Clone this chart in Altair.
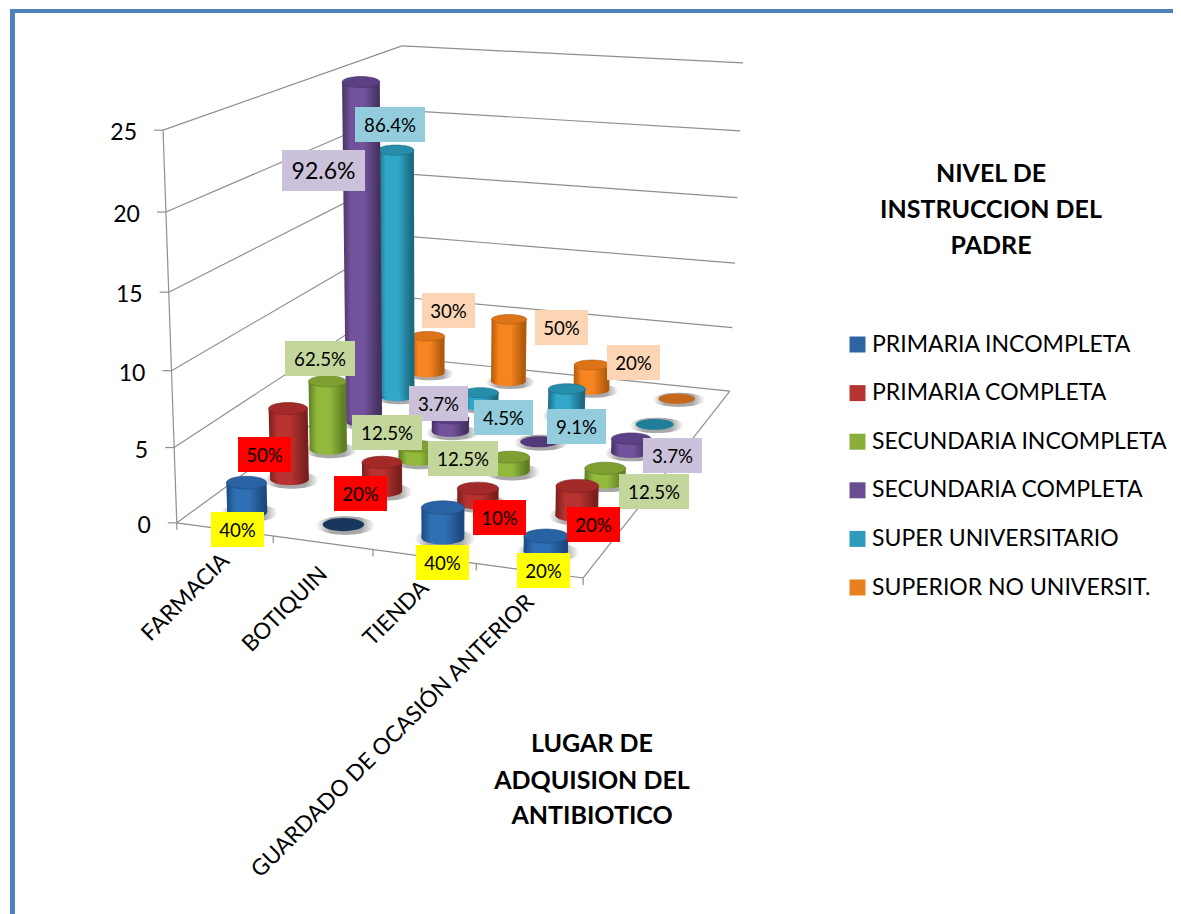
import altair as alt
import numpy as np
import pandas as pd

# ---------- data ----------
categories = ["FARMACIA", "BOTIQUIN", "TIENDA", "GUARDADO DE OCASIÓN ANTERIOR"]
series = ["PRIMARIA INCOMPLETA", "PRIMARIA COMPLETA", "SECUNDARIA INCOMPLETA",
          "SECUNDARIA COMPLETA", "SUPER UNIVERSITARIO", "SUPERIOR NO UNIVERSIT."]
primaria_incompleta = [2, 0, 2, 1]
primaria_completa = [5, 2, 1, 2]
secundaria_incompleta = [5, 1, 1, 1]
secundaria_completa = [25, 1, 0, 1]
super_universitario = [19, 1, 2, 0]
superior_no_universit = [3, 5, 2, 0]
values = [primaria_incompleta, primaria_completa, secundaria_incompleta,
          secundaria_completa, super_universitario, superior_no_universit]
z_ticks = [0, 5, 10, 15, 20, 25]
z_max = 25

pct_primaria_incompleta = ["40%", None, "40%", "20%"]
pct_primaria_completa = ["50%", "20%", "10%", "20%"]
pct_secundaria_incompleta = ["62.5%", "12.5%", "12.5%", "12.5%"]
pct_secundaria_completa = ["92.6%", "3.7%", None, "3.7%"]
pct_super_universitario = ["86.4%", "4.5%", "9.1%", None]
pct_superior_no_universit = ["30%", "50%", "20%", None]
pct = [pct_primaria_incompleta, pct_primaria_completa, pct_secundaria_incompleta,
       pct_secundaria_completa, pct_super_universitario, pct_superior_no_universit]

title_series = ["NIVEL DE", "INSTRUCCION DEL", "PADRE"]
title_categories = ["LUGAR DE", "ADQUISION DEL", "ANTIBIOTICO"]

# ---------- styles ----------
FONT = "Lato"
LEG = ["#2C64A4", "#B53431", "#8AAE3B", "#6A4C93", "#2E9BBB", "#E8801F"]
EDGE = ["#1C4A80", "#7A1F1C", "#5E7E22", "#45315F", "#1C6A80", "#B05A0C"]
MID = ["#2F70B5", "#B83230", "#93B93C", "#72529C", "#31A8CA", "#F78420"]
TOP = ["#2A63A3", "#A22B29", "#7F9F33", "#5C4085", "#268EAB", "#DD741A"]
ZERO = ["#17375E", "#8E2624", "#76932F", "#53387A", "#1F7F99", "#C5681A"]
BOX = ["#FFFF00", "#FF0000", "#C3D69B", "#CCC1DA", "#93CDDD", "#FCD5B5"]
GRID = "#8f8f8f"

# ---------- layout of the reference picture ----------
# box corners of the 3D frame: (u, v, level) -> pixel
frame = [((0, 0, 0), (177, 523)), ((1, 0, 0), (583, 578)), ((1, 1, 0), (730, 391)),
         ((0, 1, 0), (403, 357.5)), ((0, 0, 1), (163, 130)), ((0, 1, 1), (402, 46)),
         ((1, 1, 1), (743, 63))]
A = []
for (u, v, w), (px, py) in frame:
    A.append([u, v, w, 1, 0, 0, 0, 0, -px * u, -px * v, -px * w, -px])
    A.append([0, 0, 0, 0, u, v, w, 1, -py * u, -py * v, -py * w, -py])
P = np.linalg.svd(np.array(A, float))[2][-1].reshape(3, 4)


def project(u, v, z):
    q = P @ np.array([u, v, z / z_max, 1.0])
    return float(q[0] / q[2]), float(q[1] / q[2])


# data-label box centres (label layout, one row per series, same order as pct)
label_centres = [
    [(237.5, 529.5), None, (442.5, 562.5), (543.5, 570.5)],
    [(264.5, 454.5), (360.5, 493.5), (499.5, 517.5), (593.5, 524.5)],
    [(320, 358.5), (387, 432.5), (463, 458.5), (654, 491.5)],
    [(323.5, 170.5), (438.5, 403.5), None, (672.5, 455.5)],
    [(390, 124.5), (503.5, 417.5), (576.5, 426.5), None],
    [(448.5, 310.5), (561.5, 327.5), (633.5, 362.5), None],
]

PW, PH = 1165, 906
X = lambda f: alt.X(f, type="quantitative", axis=None,
                    scale=alt.Scale(domain=[8, 1173], nice=False, zero=False))
Y = lambda f: alt.Y(f, type="quantitative", axis=None,
                    scale=alt.Scale(domain=[914, 8], nice=False, zero=False))
layers = []

# ---------- frame ----------
seg = []
def add_seg(a, b):
    seg.append({"x": a[0], "y": a[1], "x2": b[0], "y2": b[1]})

for z in z_ticks:
    p0, p1, p2 = project(0, 0, z), project(0, 1, z), project(1, 1, z)
    add_seg(p0, p1)
    add_seg(p1, p2)
    add_seg((p0[0] - 9, p0[1]), p0)
add_seg(project(0, 0, 0), project(0, 0, z_max))
add_seg(project(0, 0, 0), project(1, 0, 0))
add_seg(project(1, 0, 0), project(1, 1, 0))
for i in range(len(categories) + 1):
    p = project(i / len(categories), 0, 0)
    add_seg(p, (p[0], p[1] + 7))
layers.append(alt.Chart(pd.DataFrame(seg)).mark_rule(color=GRID, strokeWidth=1.2).encode(
    x=X("x"), y=Y("y"), x2="x2", y2="y2"))

# ---------- outer border ----------
border = pd.DataFrame([{"x": 12.5, "y": 9, "x2": 12.5, "y2": 914},
                       {"x": 10, "y": 11, "x2": 1173, "y2": 11}])
layers.append(alt.Chart(border.iloc[[0]]).mark_rule(color="#4F81BD", strokeWidth=5).encode(
    x=X("x"), y=Y("y"), x2="x2", y2="y2"))
layers.append(alt.Chart(border.iloc[[1]]).mark_rule(color="#4F81BD", strokeWidth=4).encode(
    x=X("x"), y=Y("y"), x2="x2", y2="y2"))

# ---------- cylinders, back row first ----------
R = 0.053


def ellipse(a):
    return f"M-1,0 A1,{a:.3f} 0 1,1 1,0 A1,{a:.3f} 0 1,1 -1,0 Z"


def body_gradient(j):
    return alt.Gradient(gradient="linear", x1=0, x2=1, y1=0, y2=0, stops=[
        alt.GradientStop(color=EDGE[j], offset=0),
        alt.GradientStop(color=MID[j], offset=0.22),
        alt.GradientStop(color=MID[j], offset=0.55),
        alt.GradientStop(color=EDGE[j], offset=0.92),
        alt.GradientStop(color=EDGE[j], offset=1)])


HALO = alt.Gradient(gradient="radial", x1=0.5, y1=0.5, x2=0.5, y2=0.5, r1=0, r2=0.5, stops=[
    alt.GradientStop(color="#a8a8a8", offset=0.55),
    alt.GradientStop(color="#ffffff", offset=1)])

for j in reversed(range(len(series))):
    v = (j + 0.5) / len(series)
    a = 0.32 - 0.05 * v
    for i in range(len(categories)):
        u = (i + 0.5) / len(categories)
        val = values[j][i]
        b = project(u, v, 0)
        t = project(u, v, val * 0.99)
        wb = project(u + R, v, 0)[0] - project(u - R, v, 0)[0]
        wt = project(u + R, v, val)[0] - project(u - R, v, val)[0]
        base = pd.DataFrame([{"x": b[0], "y": b[1], "xs": b[0] + 2, "ys": b[1] + 1}])
        top = pd.DataFrame([{"x": t[0], "y": t[1]}])
        layers.append(alt.Chart(base).mark_point(
            shape=ellipse(a), size=(wb * 1.42) ** 2, filled=True, fill=HALO, opacity=1, strokeWidth=0
        ).encode(x=X("xs"), y=Y("ys")))
        if val == 0:
            layers.append(alt.Chart(base).mark_point(
                shape=ellipse(a), size=wb ** 2, filled=True, fill=ZERO[j], opacity=1, strokeWidth=0
            ).encode(x=X("x"), y=Y("y")))
            continue
        layers.append(alt.Chart(base).mark_point(
            shape=ellipse(a), size=wb ** 2, filled=True, fill=body_gradient(j), opacity=1, strokeWidth=0
        ).encode(x=X("x"), y=Y("y")))
        shaft = pd.DataFrame([
            {"y": t[1], "l": t[0] - wt / 2, "r": t[0] + wt / 2},
            {"y": b[1], "l": b[0] - wb / 2, "r": b[0] + wb / 2}])
        layers.append(alt.Chart(shaft).mark_area(
            orient="horizontal", fill=body_gradient(j), opacity=1, strokeWidth=0
        ).encode(y=Y("y"), x=X("l"), x2="r"))
        layers.append(alt.Chart(top).mark_point(
            shape=ellipse(a), size=wt ** 2, filled=True, fill=TOP[j], opacity=1,
            stroke=EDGE[j], strokeWidth=0.6
        ).encode(x=X("x"), y=Y("y")))

# ---------- data labels ----------
order = [(5, 0), (5, 1), (5, 2), (4, 0), (3, 0), (2, 0), (1, 0), (0, 0),
         (3, 1), (4, 1), (4, 2), (3, 3), (2, 1), (2, 2), (2, 3),
         (1, 1), (1, 2), (1, 3), (0, 2), (0, 3)]
for j, i in order:
    cx, cy = label_centres[j][i]
    txt = pct[j][i]
    big = txt == "92.6%"
    w = 83 if big else (70 if len(txt) == 5 else (59 if len(txt) == 4 else 53))
    h = 41 if big else 35
    box = pd.DataFrame([{"x": cx - w / 2, "x2": cx + w / 2, "y": cy - h / 2, "y2": cy + h / 2,
                         "cx": cx, "cy": cy + 1, "t": txt}])
    layers.append(alt.Chart(box).mark_rect(fill=BOX[j], opacity=1, strokeWidth=0).encode(
        x=X("x"), x2="x2", y=Y("y"), y2="y2"))
    layers.append(alt.Chart(box).mark_text(font=FONT, fontSize=23 if big else 18.7, color="black",
                                           align="center", baseline="middle").encode(
        x=X("cx"), y=Y("cy"), text="t:N"))

# ---------- axis labels ----------
ztxt = pd.DataFrame([{"x": project(0, 0, z)[0] - 26, "y": project(0, 0, z)[1] + 3, "t": str(z)}
                     for z in z_ticks])
layers.append(alt.Chart(ztxt).mark_text(font=FONT, fontSize=23, color="black", align="right",
                                        baseline="middle").encode(x=X("x"), y=Y("y"), text="t:N"))
ctxt = []
for i, c in enumerate(categories):
    p = project((i + 0.5) / len(categories), 0, 0)
    ctxt.append({"x": p[0] + 1, "y": p[1] + 28, "t": c})
layers.append(alt.Chart(pd.DataFrame(ctxt)).mark_text(font=FONT, fontSize=22.5, color="black", align="right",
                                                      baseline="middle", angle=315).encode(
    x=X("x"), y=Y("y"), text="t:N"))

# ---------- titles ----------
t1 = pd.DataFrame({"t": title_series, "x": [991] * 3, "y": [174, 210, 246]})
t2 = pd.DataFrame({"t": title_categories, "x": [592] * 3, "y": [744, 781, 816]})
for d in (t1, t2):
    layers.append(alt.Chart(d).mark_text(font=FONT, fontSize=25, fontWeight="bold", color="black",
                                         align="center", baseline="middle").encode(
        x=X("x"), y=Y("y"), text="t:N"))

# ---------- legend ----------
leg = pd.DataFrame({"serie": series, "x": [project(0.5, 0.5, 0)[0]] * 6, "y": [project(0.5, 0.5, 0)[1]] * 6})
layers.append(alt.Chart(leg).mark_point(filled=True, opacity=0).encode(
    x=X("x"), y=Y("y"),
    color=alt.Color("serie:N", sort=series,
                    scale=alt.Scale(domain=series, range=LEG),
                    legend=alt.Legend(title=None, orient="none", legendX=838, legendY=325,
                                      symbolType="square", symbolSize=256, symbolOpacity=1,
                                      symbolStrokeWidth=0, labelFont=FONT, labelFontSize=23,
                                      labelColor="black", labelOffset=3, rowPadding=24.6,
                                      padding=0, labelLimit=400))))

chart = alt.layer(*layers).properties(
    width=PW, height=PH, padding=0, autosize=alt.AutoSizeParams(type="none"), background="white"
).configure_view(stroke=None)

chart.save("out.html", embed_options={"renderer": "svg", "actions": False})
